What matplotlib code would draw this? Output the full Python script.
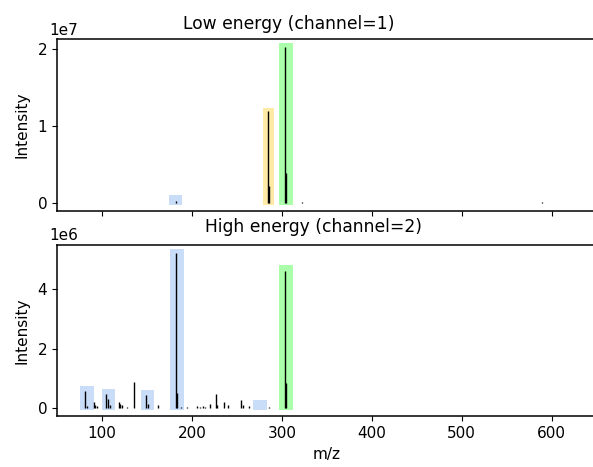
import numpy as np
import matplotlib
matplotlib.use("Agg")
import matplotlib.pyplot as plt
from matplotlib.patches import Rectangle

# Low energy spectrum (channel=1)
mz_low = [182.0, 284.3, 285.3, 304.0, 305.0, 322.0, 589.0]
int_low = [0.02e7, 1.19e7, 0.22e7, 2.03e7, 0.39e7, 0.005e7, 0.004e7]

# High energy spectrum (channel=2)
mz_high = [81.5, 83.0, 90.6, 92.5, 94.4, 104.8, 106.7, 108.5, 118.5, 120.3, 122.2,
           128.0, 135.3, 149.5, 151.0, 161.8, 181.9, 183.0, 188.0, 195.0,
           206.0, 209.0, 212.0, 215.0, 220.0, 226.6, 228.0, 235.9, 239.7,
           254.5, 256.5, 263.0, 275.0, 286.0, 304.0, 305.0, 322.0]
int_high = [0.57e6, 0.08e6, 0.21e6, 0.12e6, 0.08e6, 0.49e6, 0.30e6, 0.10e6, 0.22e6, 0.15e6, 0.12e6,
            0.05e6, 0.88e6, 0.46e6, 0.14e6, 0.12e6, 5.22e6, 0.50e6, 0.04e6, 0.05e6,
            0.06e6, 0.05e6, 0.07e6, 0.05e6, 0.15e6, 0.49e6, 0.10e6, 0.20e6, 0.12e6,
            0.27e6, 0.12e6, 0.07e6, 0.02e6, 0.05e6, 4.62e6, 0.85e6, 0.01e6]

# Highlight windows: (centre, width, top, colour)
hl_low_centre = [182.0, 285.0, 304.5]
hl_low_width = [15.0, 12.5, 15.0]
hl_low_top = [0.095e7, 1.24e7, 2.08e7]
hl_low_color = ['blue', 'yellow', 'green']

hl_high_centre = [83.5, 107.0, 150.5, 183.5, 275.5, 304.5]
hl_high_width = [15.0, 15.0, 15.0, 15.0, 15.0, 15.0]
hl_high_top = [0.74e6, 0.66e6, 0.62e6, 5.34e6, 0.29e6, 4.80e6]
hl_high_color = ['blue', 'blue', 'blue', 'blue', 'blue', 'green']

colores = {'blue': ('#4d8fec', 0.30), 'yellow': ('#ffc800', 0.35), 'green': ('lime', 0.33)}


def espectro(ax, mz, inten, centros, anchos, tops, cols, y0):
    ax.vlines(mz, 0, inten, color='black', lw=1.0)
    for c, w, t, k in zip(centros, anchos, tops, cols):
        fc, a = colores[k]
        ax.add_patch(Rectangle((c - w/2, y0), w, t - y0, facecolor=fc,
                               alpha=a, edgecolor='none'))


fig = plt.figure(figsize=(5.93, 4.67), dpi=100)
ax1 = fig.add_axes([0.0961, 0.5488, 0.91, 0.3670])
ax2 = fig.add_axes([0.0961, 0.1086, 0.91, 0.3668], sharex=ax1)

espectro(ax1, mz_low, int_low, hl_low_centre, hl_low_width, hl_low_top, hl_low_color, -0.03e7)
espectro(ax2, mz_high, int_high, hl_high_centre, hl_high_width, hl_high_top, hl_high_color, -0.05e6)

ax1.set_xlim(50, 650)
ax1.set_ylim(-0.105e7, 2.13e7)
ax2.set_ylim(-0.27e6, 5.48e6)

ax1.set_title('Low energy (channel=1)', fontsize=12.3, x=0.429, pad=7.5)
ax2.set_title('High energy (channel=2)', fontsize=12.3, x=0.475, pad=9.5)
ax1.set_ylabel('Intensity', fontsize=11, labelpad=6)
ax2.set_ylabel('Intensity', fontsize=11, labelpad=6)
ax2.set_xlabel('m/z', fontsize=11)

plt.setp(ax1.get_xticklabels(), visible=False)
for ax, off in ((ax1, '1e7'), (ax2, '1e6')):
    ax.tick_params(labelsize=11)
    ax.yaxis.get_offset_text().set_visible(False)
    ax.text(-0.015, 1.01, off, transform=ax.transAxes, fontsize=11,
            ha='left', va='bottom')
    for s in ax.spines.values():
        s.set_linewidth(1.1)

ax1.set_yticks([0, 1e7, 2e7])
ax2.set_yticks([0, 2e6, 4e6])
ax1.set_yticklabels(['0', '1', '2'])
ax2.set_yticklabels(['0', '2', '4'])
ax2.set_xticks([100, 200, 300, 400, 500, 600])

fig.savefig('out.png', dpi=100)
